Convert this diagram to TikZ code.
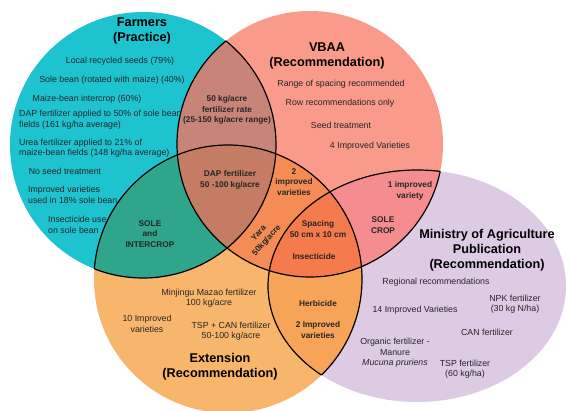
\documentclass[tikz,border=0pt]{standalone}
\usepackage{fontspec}
\setmainfont{Liberation Sans}
\usepackage{xcolor}
\usepackage{tikz}

\definecolor{farmcyan}{HTML}{1DC3CF}
\definecolor{vbaasalmon}{HTML}{F99A8B}
\definecolor{extorange}{HTML}{F8B56C}
\definecolor{minlilac}{HTML}{DDCBE3}
\definecolor{fvbrown}{HTML}{C98478}
\definecolor{feteal}{HTML}{2FA68C}
\definecolor{fvebrown}{HTML}{C47C64}
\definecolor{veorange}{HTML}{F68C55}
\definecolor{vmpink}{HTML}{F58D8F}
\definecolor{emorange}{HTML}{F7A458}
\definecolor{vemred}{HTML}{F57A4C}

\begin{document}
\begin{tikzpicture}[x=1pt,y=-1pt,
  txt/.style={font=\fontsize{8.8}{10.5}\selectfont,text=black!85,inner sep=0pt,align=center},
  bold/.style={txt,font=\fontsize{8.3}{10.5}\selectfont\bfseries},
  head/.style={font=\fontsize{12.7}{15}\selectfont\bfseries,inner sep=0pt,align=center},
  edge/.style={black,line width=1.2pt}]
\def\farmers{(143,145) circle (133pt)}
  \def\vbaa{(310,144) circle (133pt)}
  \def\extension{(228,279) circle (134pt)}
  \def\ministry{(417,286) ellipse (149pt and 116pt)}
      \useasboundingbox (0,0) rectangle (567,411);
      \fill[white] (0,0) rectangle (567,411);
      \fill[farmcyan] \farmers;
      \fill[vbaasalmon] \vbaa;
      \fill[minlilac] \ministry;
      \fill[extorange] \extension;
      \begin{scope}
    \clip \farmers;
    \fill[fvbrown] \vbaa;
    \fill[feteal] \extension;
      \end{scope}
      \begin{scope}
    \clip \vbaa;
    \fill[veorange] \extension;
    \fill[vmpink] \ministry;
      \end{scope}
      \begin{scope}
    \clip \extension;
    \fill[emorange] \ministry;
      \end{scope}
      \begin{scope}
    \clip \farmers;
    \clip \vbaa;
    \fill[fvebrown] \extension;
      \end{scope}
      \begin{scope}
    \clip \vbaa;
    \clip \extension;
    \fill[vemred] \ministry;
      \end{scope}
      % inner arcs only
      \begin{scope}
    \clip \vbaa \extension;
    \draw[edge] \farmers;
      \end{scope}
      \begin{scope}
    \clip \farmers \extension \ministry;
    \draw[edge] \vbaa;
      \end{scope}
      \begin{scope}
    \clip \farmers \vbaa \ministry;
    \draw[edge] \extension;
      \end{scope}
      \begin{scope}
    \clip \vbaa \extension;
    \draw[edge] \ministry;
      \end{scope}
      % Farmers
      \node[head] (farmtitle) at (142,31) {Farmers\\(Practice)};
      \node[txt] (seeds) at (120,61) {Local recycled seeds (79\%)};
      \node[txt] (solebean) at (112,80) {Sole bean (rotated with maize) (40\%)};
      \node[txt] (intercrop) at (87,99) {Maize-bean intercrop (60\%)};
      \node[txt,anchor=west,align=left] (dapuse) at (19,119.5) {DAP fertilizer applied to 50\% of sole bean\\fields (161 kg/ha average)};
      \node[txt,anchor=west,align=left] (ureause) at (19,148) {Urea fertilizer applied to 21\% of\\maize-bean fields (148 kg/ha average)};
      \node[txt] (noseed) at (65,171) {No seed treatment};
      \node[txt,anchor=west,align=left] (farmvar) at (28,195) {Improved varieties\\used in 18\% sole bean};
      \node[txt,anchor=west,align=left] (farmins) at (48,225) {Insecticide use\\on sole bean};
      % VBAA
      \node[head] (vbaatitle) at (327,56) {VBAA\\(Recommendation)};
      \node[txt] (range) at (341,84) {Range of spacing recommended};
      \node[txt] (rows) at (340,103) {Row recommendations only};
      \node[txt] (seedtreat) at (341,125) {Seed treatment};
      \node[txt] (vbaavar) at (370,146) {4 Improved Varieties};
      % overlaps
      \node[bold] (rate) at (227,110) {50 kg/acre\\fertilizer rate\\(25-150 kg/acre range)};
      \node[bold] (dap) at (230,180) {DAP fertilizer\\50 -100 kg/acre};
      \node[bold] (twovar) at (294,182) {2\\improved\\varieties};
      \node[bold,rotate=48] (yara) at (263,237) {Yara\\50kg/acre};
      \node[bold] (spacing) at (318,229) {Spacing\\50 cm x 10 cm};
      \node[bold] (insect) at (314,257) {Insecticide};
      \node[bold] (onevar) at (410,191) {1 improved\\variety};
      \node[bold] (solecrop) at (383,225) {SOLE\\CROP};
      \node[bold] (soleinter) at (150,234) {SOLE\\and\\INTERCROP};
      \node[bold] (herb) at (318,304) {Herbicide};
      \node[bold] (extvar) at (318,330) {2 Improved\\varieties};
      % Ministry
      \node[head] (mintitle) at (487,250) {Ministry of Agriculture\\Publication\\(Recommendation)};
      \node[txt] (regional) at (436,282) {Regional recommendations};
      \node[txt] (npk) at (515,304) {NPK fertilizer\\(30 kg N/ha)};
      \node[txt] (minvar) at (415,310) {14 Improved Varieties};
      \node[txt] (can) at (487,332) {CAN fertilizer};
      \node[txt] (organic) at (395,353) {Organic fertilizer -\\Manure\\\textit{Mucuna pruriens}};
      \node[txt] (tsp) at (465,369) {TSP fertilizer\\(60 kg/ha)};
      % Extension
      \node[txt] (minjingu) at (209,298) {Minjingu Mazao fertilizer\\100 kg/acre};
      \node[txt] (extvars) at (147,324) {10 Improved\\varieties};
      \node[txt] (tspcan) at (231,331) {TSP + CAN fertilizer\\50-100 kg/acre};
      \node[head] (exttitle) at (220,367) {Extension\\(Recommendation)};
\end{tikzpicture}
\end{document}
